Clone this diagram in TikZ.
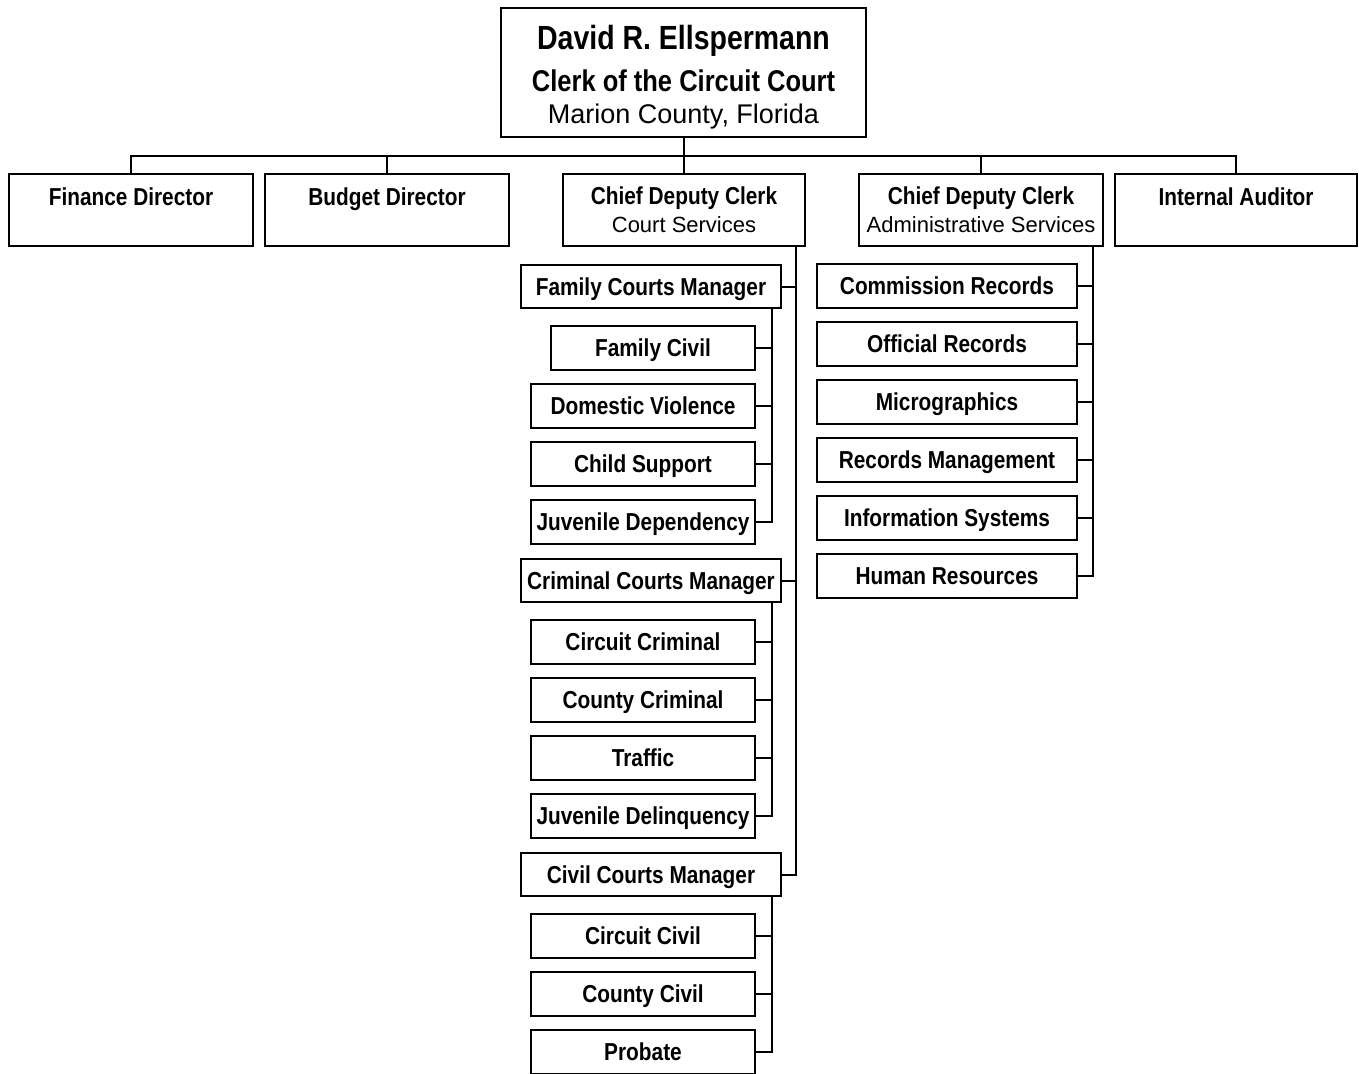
\documentclass[tikz,border=0pt]{standalone}
\usepackage{fontspec}
\setmainfont{Liberation Sans}
\newfontfamily\condfont[FakeStretch=0.85]{Liberation Sans}
\begin{document}
\begin{tikzpicture}[x=1pt,y=-1pt]
\tikzset{
  box/.style={draw, line width=2pt, rectangle, inner sep=0pt, align=center},
  bfs/.style={font=\condfont\bfseries\fontsize{24.5}{28}\selectfont},
  cell/.style={box, bfs, minimum height=44pt, text height=17.5pt, text depth=0pt},
  headbox/.style={box, bfs, minimum width=244pt, minimum height=72pt, text height=31.75pt, text depth=40.25pt},
  conn/.style={line width=2pt},
}
\useasboundingbox (0,0) rectangle (1359,1073);
% top
\node[box, minimum width=365pt, minimum height=129pt, font=\condfont\bfseries\fontsize{33.5}{42}\selectfont] (top) at (683.5,72.5)
  {\rule{0pt}{34pt}David R. Ellspermann\\{\fontsize{30}{42}\selectfont Clerk of the Circuit Court}\\[-10pt]{\normalfont\fontsize{27}{34}\selectfont Marion County, Florida}};
% level 2
\node[headbox] (fin) at (131,210) {Finance Director};
\node[headbox] (bud) at (387,210) {Budget Director};
\node[box, minimum width=242pt, minimum height=72pt, font=\fontsize{22}{28}\selectfont] (cc) at (684,210)
  {{\condfont\bfseries\fontsize{24.5}{28}\selectfont Chief Deputy Clerk}\\Court Services};
\node[box, minimum width=244pt, minimum height=72pt, font=\fontsize{22}{28}\selectfont] (ad) at (981,210)
  {{\condfont\bfseries\fontsize{24.5}{28}\selectfont Chief Deputy Clerk}\\Administrative Services};
\node[headbox, minimum width=242pt] (aud) at (1236,210) {Internal Auditor};
% court services
\node[cell, minimum width=260pt, minimum height=43pt] (fcm) at (651,286.5) {Family Courts Manager};
\node[cell, minimum width=204pt] (fciv) at (653,348) {Family Civil};
\node[cell, minimum width=224pt] (dv) at (643,406) {Domestic Violence};
\node[cell, minimum width=224pt] (cs) at (643,464) {Child Support};
\node[cell, minimum width=224pt] (jd) at (643,522) {Juvenile Dependency};
\node[cell, minimum width=260pt, minimum height=43pt] (crm) at (651,580.5) {Criminal Courts Manager};
\node[cell, minimum width=224pt] (ccr) at (643,642) {Circuit Criminal};
\node[cell, minimum width=224pt] (cocr) at (643,700) {County Criminal};
\node[cell, minimum width=224pt] (tr) at (643,758) {Traffic};
\node[cell, minimum width=224pt] (jdel) at (643,816) {Juvenile Delinquency};
\node[cell, minimum width=260pt, minimum height=43pt] (civm) at (651,874.5) {Civil Courts Manager};
\node[cell, minimum width=224pt] (ccv) at (643,936) {Circuit Civil};
\node[cell, minimum width=224pt] (cocv) at (643,994) {County Civil};
\node[cell, minimum width=224pt] (prob) at (643,1052) {Probate};
% admin services
\node[cell, minimum width=260pt] (com) at (947,286) {Commission Records};
\node[cell, minimum width=260pt] (off) at (947,344) {Official Records};
\node[cell, minimum width=260pt] (mic) at (947,402) {Micrographics};
\node[cell, minimum width=260pt] (rm) at (947,460) {Records Management};
\node[cell, minimum width=260pt] (is) at (947,518) {Information Systems};
\node[cell, minimum width=260pt] (hr) at (947,576) {Human Resources};
% connectors top
\coordinate (bus) at (684,156);
\draw[conn] (top.south) -- (top.south |- cc.north);
\draw[conn] (fin.north) |- (bus) -| (aud.north);
\draw[conn] (bud.north) -- (bud.north |- bus);
\draw[conn] (ad.north) -- (ad.north |- bus);
% court services connectors
\coordinate (csx) at ([xshift=-10pt]cc.south east);
\draw[conn] (csx) |- (civm.east);
\draw[conn] (fcm.east) -- (fcm.east -| csx);
\draw[conn] (crm.east) -- (crm.east -| csx);
\coordinate (fx) at ([xshift=-10pt]fcm.south east);
\draw[conn] (fx) |- (jd.east);
\foreach \n in {fciv,dv,cs} \draw[conn] (\n.east) -- (\n.east -| fx);
\coordinate (crx) at ([xshift=-10pt]crm.south east);
\draw[conn] (crx) |- (jdel.east);
\foreach \n in {ccr,cocr,tr} \draw[conn] (\n.east) -- (\n.east -| crx);
\coordinate (cvx) at ([xshift=-10pt]civm.south east);
\draw[conn] (cvx) |- (prob.east);
\foreach \n in {ccv,cocv} \draw[conn] (\n.east) -- (\n.east -| cvx);
% admin connectors
\coordinate (adx) at ([xshift=-11pt]ad.south east);
\draw[conn] (adx) |- (hr.east);
\foreach \n in {com,off,mic,rm,is} \draw[conn] (\n.east) -- (\n.east -| adx);
\end{tikzpicture}
\end{document}
